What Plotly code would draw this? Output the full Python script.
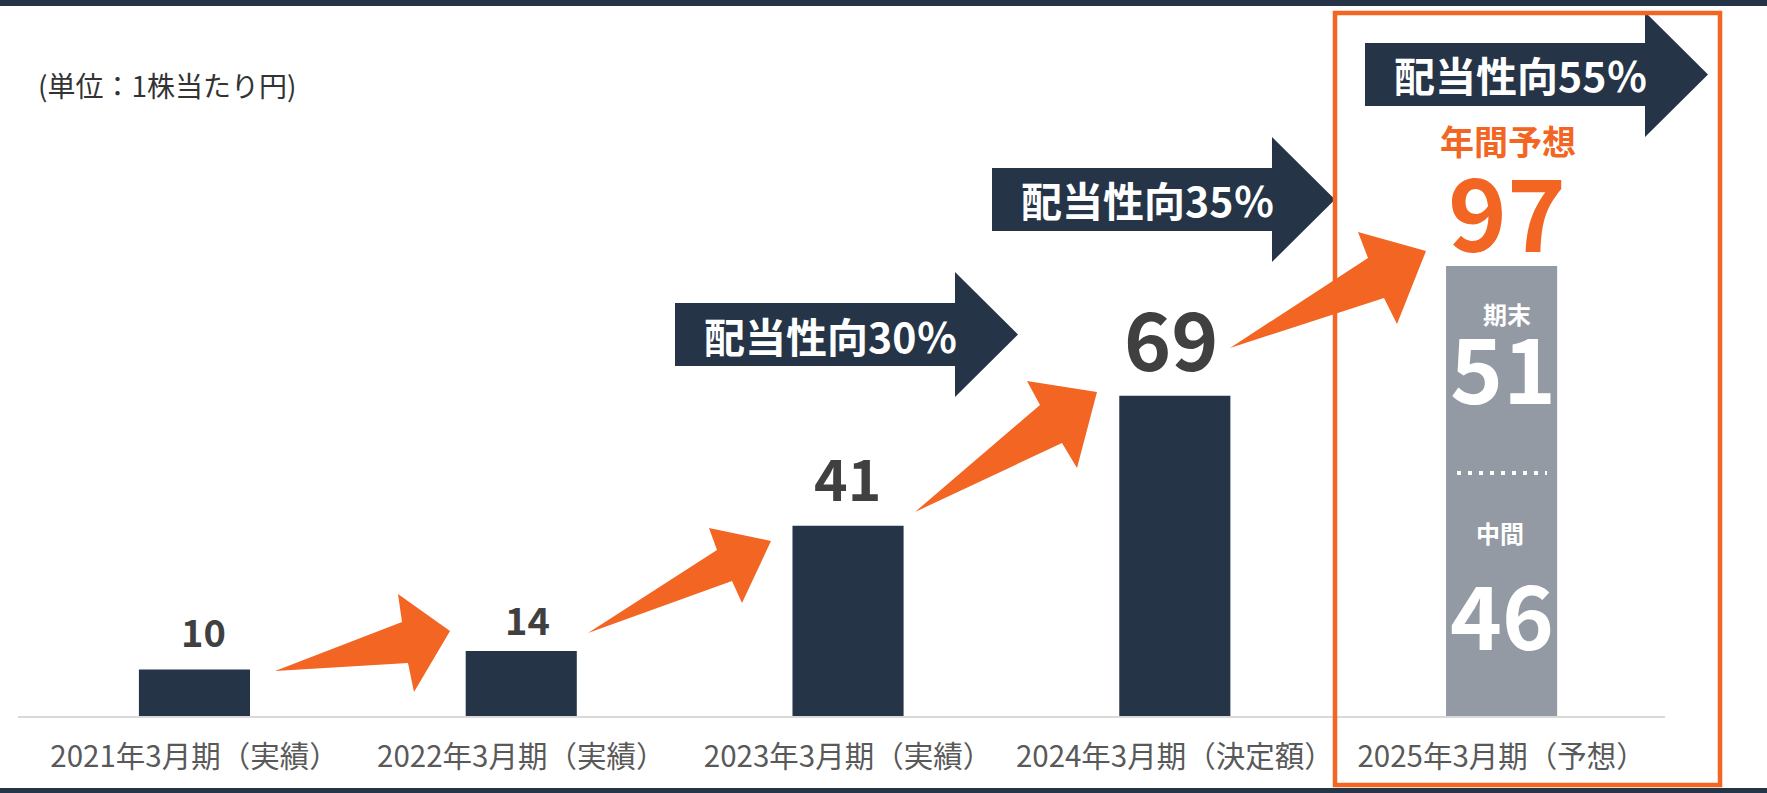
import plotly.graph_objects as go

# ---- data -----------------------------------------------------------------
categories = [
    "2021年3月期（実績）",
    "2022年3月期（実績）",
    "2023年3月期（実績）",
    "2024年3月期（決定額）",
    "2025年3月期（予想）",
]
actual_dividends = [10, 14, 41, 69]
forecast_interim = 46
forecast_year_end = 51
payout_labels = ["配当性向30％", "配当性向35％", "配当性向55％"]
unit_label = "(単位：1株当たり円)"

# ---- style ----------------------------------------------------------------
NAVY = "#253547"
ORANGE = "#F26522"
GREY_BAR = "#939AA3"
LABEL_GREY = "#404040"
TICK_GREY = "#595959"
JP = "Noto Sans CJK JP, Noto Sans, sans-serif"

FIG_W, FIG_H = 1767, 793
L, R, T, B = 18, 1665, 16, 716          # plot area in page pixels
PX_PER_YEN = 4.64


def px(x):
    return (x - L) / (R - L)


def py(y):
    return (B - y) / (B - T)


def path(points):
    return "M " + " L ".join(f"{px(x):.5f},{py(y):.5f}" for x, y in points) + " Z"


forecast_total = forecast_interim + forecast_year_end

fig = go.Figure()
fig.add_bar(x=categories[:4], y=actual_dividends, width=0.34,
            marker=dict(color=NAVY, line_width=0), hoverinfo="skip")
fig.add_bar(x=categories[4:], y=[forecast_total], width=0.34,
            marker=dict(color=GREY_BAR, line_width=0), hoverinfo="skip")

shapes = []
annotations = []

# value labels above the bars
label_sizes = [38, 38, 57, 80]
label_shift = [(9, 39), (6, 33), (-1, 50), (-4, 60)]
for cat, val, size, (dx, dy) in zip(categories, actual_dividends, label_sizes, label_shift):
    annotations.append(dict(x=cat, y=val, xref="x", yref="y", text=str(val),
                            showarrow=False, xanchor="center", yanchor="middle",
                            xshift=dx, yshift=dy,
                            font=dict(family=JP, size=size, color=LABEL_GREY, weight="bold")))
annotations.append(dict(x=categories[4], y=forecast_total, xref="x", yref="y",
                        text=str(forecast_total), showarrow=False,
                        xanchor="center", yanchor="middle", xshift=5, yshift=57,
                        font=dict(family=JP, size=100, color=ORANGE, weight="bold")))


def text_at(x, y, s, size, color, weight="bold", anchor="center"):
    annotations.append(dict(x=px(x), y=py(y), xref="paper", yref="paper", text=s,
                            showarrow=False, xanchor=anchor, yanchor="middle",
                            font=dict(family=JP, size=size, color=color, weight=weight)))


text_at(1508, 140, "年間予想", 34, ORANGE)
text_at(1507, 313, "期末", 24, "white")
text_at(1503, 365, str(forecast_year_end), 90, "white")
text_at(1500, 532, "中間", 24, "white")
text_at(1502, 611, str(forecast_interim), 88, "white")
text_at(36, 85, unit_label, 28, "#333333", weight="normal", anchor="left")

# dotted divider inside the forecast bar
shapes.append(dict(type="line", xref="paper", yref="paper",
                   x0=px(1457), x1=px(1547), y0=py(473), y1=py(473),
                   line=dict(color="white", width=4, dash="4px,7px")))

# payout-ratio block arrows
for (x0, yc), label in zip([(675, 334.5), (992, 199.5), (1365, 74.5)], payout_labels):
    pts = [(x0, yc - 31.5), (x0 + 280, yc - 31.5), (x0 + 280, yc - 62.5),
           (x0 + 343, yc), (x0 + 280, yc + 62.5), (x0 + 280, yc + 31.5),
           (x0, yc + 31.5)]
    shapes.append(dict(type="path", xref="paper", yref="paper", path=path(pts),
                       fillcolor=NAVY, line=dict(width=0)))
    text_at(x0 + 155, yc, label, 41, "white")

# orange growth arrows between bars
growth_arrows = [
    [(275, 671), (402, 622), (398, 594), (450, 631), (414, 692), (408, 663)],
    [(588, 633), (717, 550), (709, 528), (771, 541), (742, 603), (732, 581)],
    [(915, 512), (1040, 405), (1027, 381), (1097, 392), (1077, 468), (1062, 443)],
    [(1230, 348), (1368, 258), (1358, 232), (1426, 251), (1397, 324), (1384, 298)],
]
for pts in growth_arrows:
    shapes.append(dict(type="path", xref="paper", yref="paper", path=path(pts),
                       fillcolor=ORANGE, line=dict(width=0)))

# forecast frame
shapes.append(dict(type="rect", xref="paper", yref="paper",
                   x0=px(1335), x1=px(1720), y0=py(13), y1=py(785),
                   line=dict(color=ORANGE, width=4.5), fillcolor="rgba(0,0,0,0)"))

# page bands top and bottom
for y0, y1 in [(0, 6), (788, 793)]:
    shapes.append(dict(type="rect", xref="paper", yref="paper",
                       x0=px(0), x1=px(FIG_W), y0=py(y0), y1=py(y1),
                       fillcolor=NAVY, line=dict(width=0)))

fig.update_layout(
    width=FIG_W, height=FIG_H,
    margin=dict(l=L, r=FIG_W - R, t=T, b=FIG_H - B),
    paper_bgcolor="white", plot_bgcolor="white",
    barmode="overlay", showlegend=False,
    shapes=shapes, annotations=annotations,
    xaxis=dict(type="category", range=[-0.54, 4.5], showline=True,
               linecolor="#D9D9D9", linewidth=2, ticks="", showgrid=False,
               zeroline=False, fixedrange=True, ticklabelstandoff=14,
               tickfont=dict(family=JP, size=29.5, color=TICK_GREY)),
    yaxis=dict(range=[0, (B - T) / PX_PER_YEN], visible=False, showgrid=False,
               zeroline=False, fixedrange=True),
)

fig.write_html("out.html", config={"displayModeBar": False})
